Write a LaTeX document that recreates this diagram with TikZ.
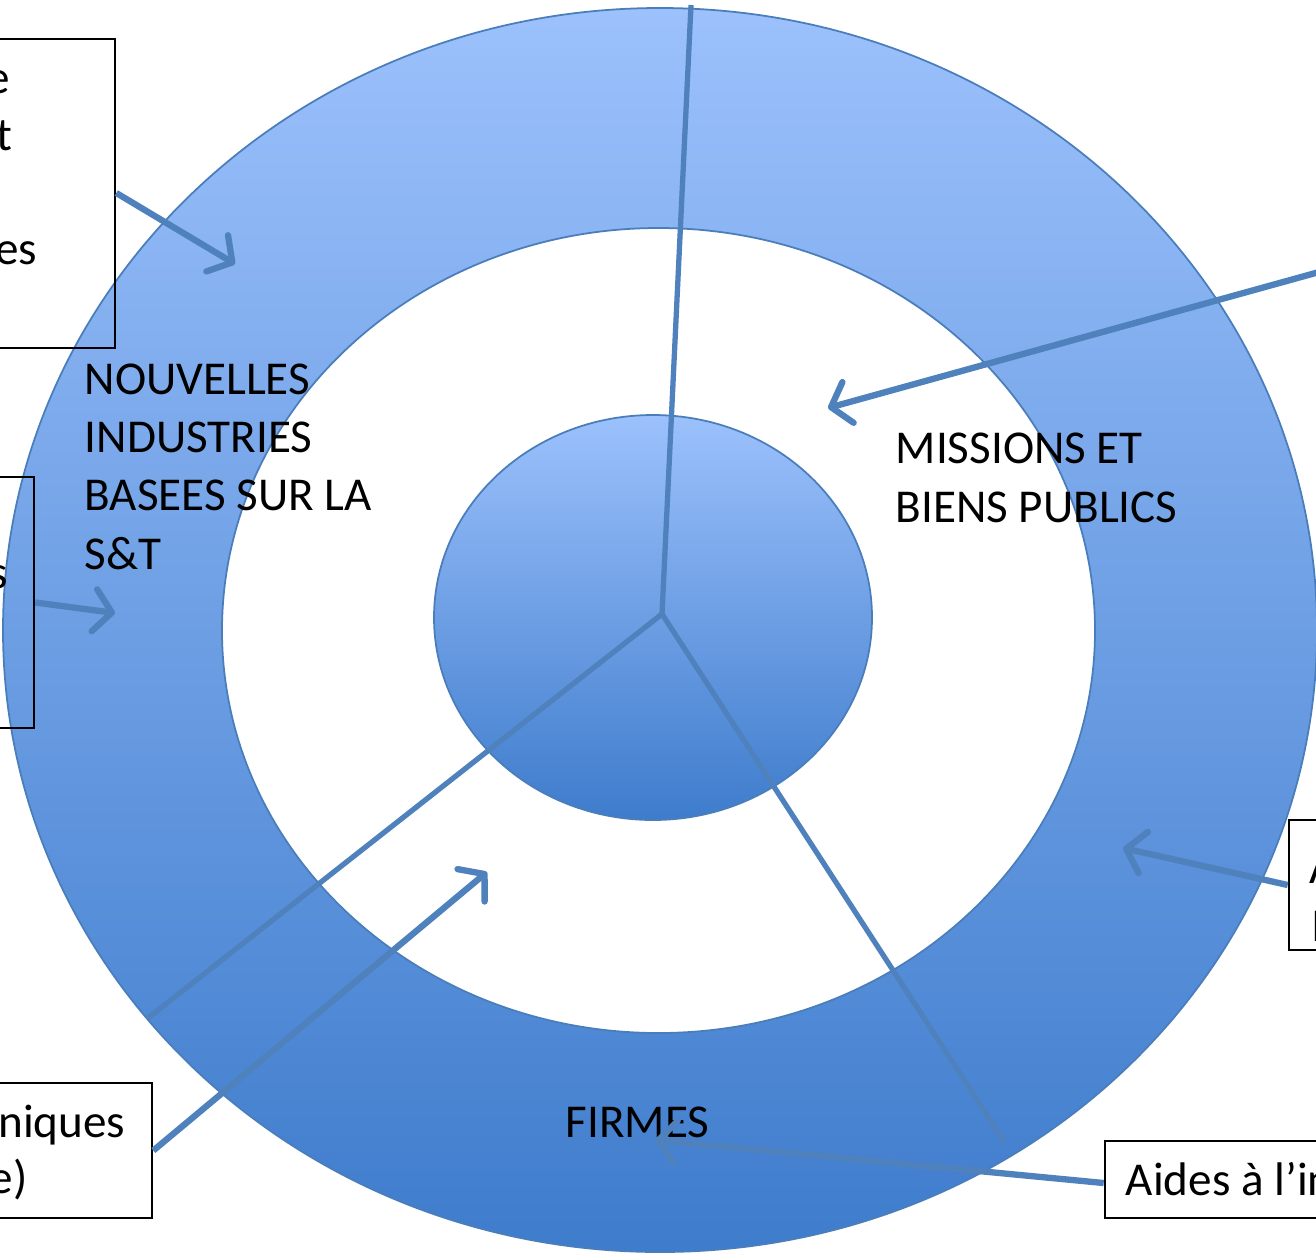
\documentclass[tikz,border=0pt]{standalone}
\usepackage{fontspec}
\setmainfont{Carlito}
\usetikzlibrary{arrows.meta}
\definecolor{ringtop}{RGB}{156,193,252}
\definecolor{ringbot}{RGB}{62,124,204}
\definecolor{rim}{RGB}{74,126,187}
\definecolor{spoke}{RGB}{79,129,189}
\tikzset{
  lbl/.style={align=left, inner sep=0pt, anchor=base west, font=\fontsize{13.4}{16.5}\selectfont},
  frag/.style={inner sep=0pt, font=\fontsize{13.4}{16.5}\selectfont},
  frame/.style={draw=black, line width=0.7pt, inner sep=0pt},
  pointer/.style={draw=spoke, line width=1.8pt, -{Straight Barb[length=5pt,width=12pt,round]}},
  spokeline/.style={draw=spoke, line width=1.5pt}
}
\begin{document}
\begin{tikzpicture}[x=0.01cm,y=-0.01cm]
\useasboundingbox (0,0) rectangle (1316,1254);
\clip (0,0) rectangle (1316,1254);

\shade[top color=ringtop, bottom color=ringbot, draw=rim, line width=0.5pt] (660,630) ellipse [x radius=657, y radius=622];
\filldraw[fill=white, draw=rim, line width=0.5pt] (658.5,630.5) ellipse [x radius=436.5, y radius=402.5];
\shade[top color=ringtop, bottom color=ringbot, draw=rim, line width=0.5pt] (653,617.5) ellipse [x radius=219, y radius=202.5];

\coordinate (hub) at (662,614);
\coordinate (spokeN) at (691,5);
\coordinate (spokeSW) at (148,1018);
\coordinate (spokeSE) at (1005,1143);
\draw[spokeline] (hub) -- (spokeN);
\draw[spokeline] (hub) -- (spokeSW);
\draw[spokeline] (hub) -- (spokeSE);

\node[lbl] (industries) at (84,569) {NOUVELLES\\INDUSTRIES\\BASEES SUR LA\\S\&T};
\node[lbl] (missions) at (895,522) {MISSIONS ET\\BIENS PUBLICS};
\node[lbl] (firmes) at (565,1137) {FIRMES};

\node[frame, minimum width=3.15cm, minimum height=3.09cm] (boxA) at (-42.5,193.5) {};
\node[frame, minimum width=2.34cm, minimum height=2.51cm] (boxB) at (-83,602.5) {};
\node[frame, minimum width=3.52cm, minimum height=1.35cm] (boxC) at (-24,1150.5) {};
\node[frame, minimum width=3.00cm, minimum height=0.77cm] (boxD) at (1255,1179.5) {};
\node[frame, minimum width=2.00cm, minimum height=1.30cm] (boxE) at (1389,885) {};

\node[frag, anchor=base east] (fragA1) at (11,93) {e};
\node[frag, anchor=base east] (fragA2) at (13,150) {t};
\node[frag, anchor=base east] (fragA3) at (38,264) {es};
\node[frag, anchor=base east] (fragB1) at (9,588) {s};
\node[frag, anchor=base east] (fragC1) at (126,1137) {niques};
\node[frag, anchor=base east] (fragC2) at (28,1193) {e)};
\node[frag, anchor=base west] (fragD1) at (1125,1195) {Aides à l’in};
\node[frag, anchor=base west] (fragE1) at (1309,883) {A};
\node[frag, anchor=base west] (fragE2) at (1311,941) {I};

\coordinate (tipA) at (235,264);
\coordinate (tipB) at (115,613);
\coordinate (tipC) at (487,872);
\coordinate (tipD) at (655,1140);
\coordinate (tipE) at (1123,848);
\coordinate (srcF) at (1330,269);
\coordinate (tipF) at (828,408);
\draw[pointer] (boxA.east |- 0,193) -- (tipA);
\draw[pointer] (boxB.east) -- (tipB);
\draw[pointer] (boxC.east) -- (tipC);
\draw[pointer] (boxD.west |- 0,1183) -- (tipD);
\draw[pointer] (boxE.west) -- (tipE);
\draw[pointer] (srcF) -- (tipF);
\end{tikzpicture}
\end{document}
